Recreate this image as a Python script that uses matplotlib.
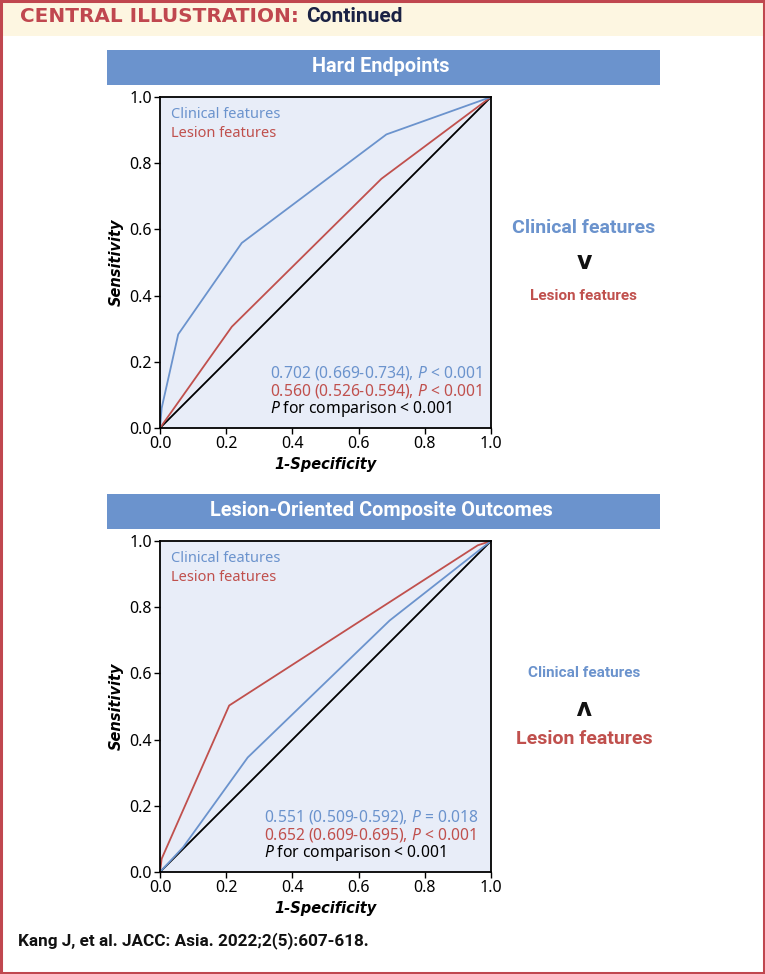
import matplotlib.pyplot as plt
from matplotlib.patches import Rectangle

plt.rcParams['font.family'] = ['Noto Sans', 'DejaVu Sans']
plt.rcParams['mathtext.fontset'] = 'custom'
plt.rcParams['mathtext.rm'] = 'Noto Sans'
plt.rcParams['mathtext.it'] = 'Noto Sans:italic'
plt.rcParams['mathtext.bf'] = 'Noto Sans:bold'

# ROC data
hard_clin_x = [0.0, 0.005, 0.055, 0.247, 0.684, 1.0]
hard_clin_y = [0.0, 0.06, 0.283, 0.559, 0.887, 1.0]
hard_les_x = [0.0, 0.217, 0.669, 1.0]
hard_les_y = [0.0, 0.306, 0.753, 1.0]

loco_clin_x = [0.0, 0.07, 0.265, 0.694, 1.0]
loco_clin_y = [0.0, 0.075, 0.346, 0.76, 1.0]
loco_les_x = [0.0, 0.005, 0.209, 0.96, 1.0]
loco_les_y = [0.0, 0.04, 0.503, 0.987, 1.0]

ticks = [0.0, 0.2, 0.4, 0.6, 0.8, 1.0]
tick_labels = ['0.0', '0.2', '0.4', '0.6', '0.8', '1.0']

hard_auc = ['0.702 (0.669-0.734), $\\it{P}$ < 0.001',
            '0.560 (0.526-0.594), $\\it{P}$ < 0.001',
            '$\\it{P}$ for comparison < 0.001']
loco_auc = ['0.551 (0.509-0.592), $\\it{P}$ = 0.018',
            '0.652 (0.609-0.695), $\\it{P}$ < 0.001',
            '$\\it{P}$ for comparison < 0.001']

BLUE = '#6b93cd'
RED = '#c0504d'
BG = '#e8edf8'
BAR = '#6b93cd'
BORDER = '#c0474f'

W, H = 765, 974
fig = plt.figure(figsize=(W / 100, H / 100), dpi=100)


def fx(px):
    return px / W


def fy(py):
    return 1 - py / H


# header band and border
fig.patches.append(Rectangle((0, fy(36)), 1, 36 / H, transform=fig.transFigure,
                             facecolor='#fdf6e1', edgecolor='none', zorder=0))
fig.patches.append(Rectangle((0.0015, 0.001), 0.997, 0.998, transform=fig.transFigure,
                             facecolor='none', edgecolor=BORDER, lw=2.2, zorder=5))
fig.text(fx(20), fy(16), 'CENTRAL ILLUSTRATION:', color=BORDER, fontsize=14.4,
         fontweight='bold', va='center', ha='left', family='DejaVu Sans')
fig.text(fx(306), fy(16), 'Continued', color='#1b2244', fontsize=15,
         fontweight='bold', va='center', ha='left', family='Roboto')


def panel(top, title, cx, cy, lx, ly, auc, auc_x, sym, big_top):
    # title bar
    fig.patches.append(Rectangle((fx(107), fy(top + 35)), (660 - 107) / W, 35 / H,
                                 transform=fig.transFigure, facecolor=BAR,
                                 edgecolor='none'))
    fig.text(fx(381), fy(top + 17), title, color='white', fontsize=14.3,
             fontweight='bold', ha='center', va='center', family='Roboto')

    atop = top + 47
    ax = fig.add_axes([fx(160), fy(atop + 331), 331 / W, 331 / H])
    ax.set_facecolor(BG)
    ax.plot([0, 1], [0, 1], color='black', lw=1.3)
    ax.plot(lx, ly, color=RED, lw=1.3)
    ax.plot(cx, cy, color=BLUE, lw=1.3)
    ax.set_xlim(0, 1)
    ax.set_ylim(0, 1)
    ax.set_xticks(ticks)
    ax.set_xticklabels(tick_labels)
    ax.set_yticks(ticks)
    ax.set_yticklabels(tick_labels)
    ax.tick_params(labelsize=11.5, length=4, width=1, pad=2)
    for s in ax.spines.values():
        s.set_linewidth(1.3)
    ax.set_xlabel('1-Specificity', fontsize=10.5, fontweight='bold', style='italic',
                  labelpad=3, family='DejaVu Sans')
    ax.set_ylabel('Sensitivity', fontsize=10.5, fontweight='bold', style='italic',
                  labelpad=4, family='DejaVu Sans')

    ax.text(0.033, 0.946, 'Clinical features', color=BLUE, fontsize=10.5,
            transform=ax.transAxes, va='center')
    ax.text(0.033, 0.891, 'Lesion features', color=RED, fontsize=10.5,
            transform=ax.transAxes, va='center')
    for txt, yy, col in zip(auc, [0.166, 0.111, 0.056], [BLUE, RED, 'black']):
        ax.text(auc_x, yy, txt, color=col, fontsize=11.3, transform=ax.transAxes,
                va='center')

    # comparison on the right
    big, small = 14, 11
    if big_top:
        s1, s2 = big, small
        y1, y2, y3 = top + 178, top + 212, top + 246
    else:
        s1, s2 = small, big
        y1, y2, y3 = top + 179, top + 213, top + 245
    fig.text(fx(584), fy(y1), 'Clinical features', color=BLUE, fontsize=s1,
             fontweight='bold', ha='center', va='center', family='Roboto')
    fig.text(fx(584), fy(y2), 'v', color='#111111', fontsize=17, fontweight='heavy',
             ha='center', va='center', rotation=0 if sym == 'gt' else 180,
             family='DejaVu Sans')
    fig.text(fx(584), fy(y3), 'Lesion features', color=RED, fontsize=s2,
             fontweight='bold', ha='center', va='center', family='Roboto')
    return ax


panel(50, 'Hard Endpoints', hard_clin_x, hard_clin_y, hard_les_x, hard_les_y,
      hard_auc, 0.332, 'gt', True)
panel(494, 'Lesion-Oriented Composite Outcomes', loco_clin_x, loco_clin_y,
      loco_les_x, loco_les_y, loco_auc, 0.314, 'lt', False)

fig.text(fx(18), fy(941), 'Kang J, et al. JACC: Asia. 2022;2(5):607-618.',
         fontsize=12.3, fontweight='bold', color='#111111', ha='left', va='center',
         family='Roboto')

fig.savefig('out.png', dpi=100)
